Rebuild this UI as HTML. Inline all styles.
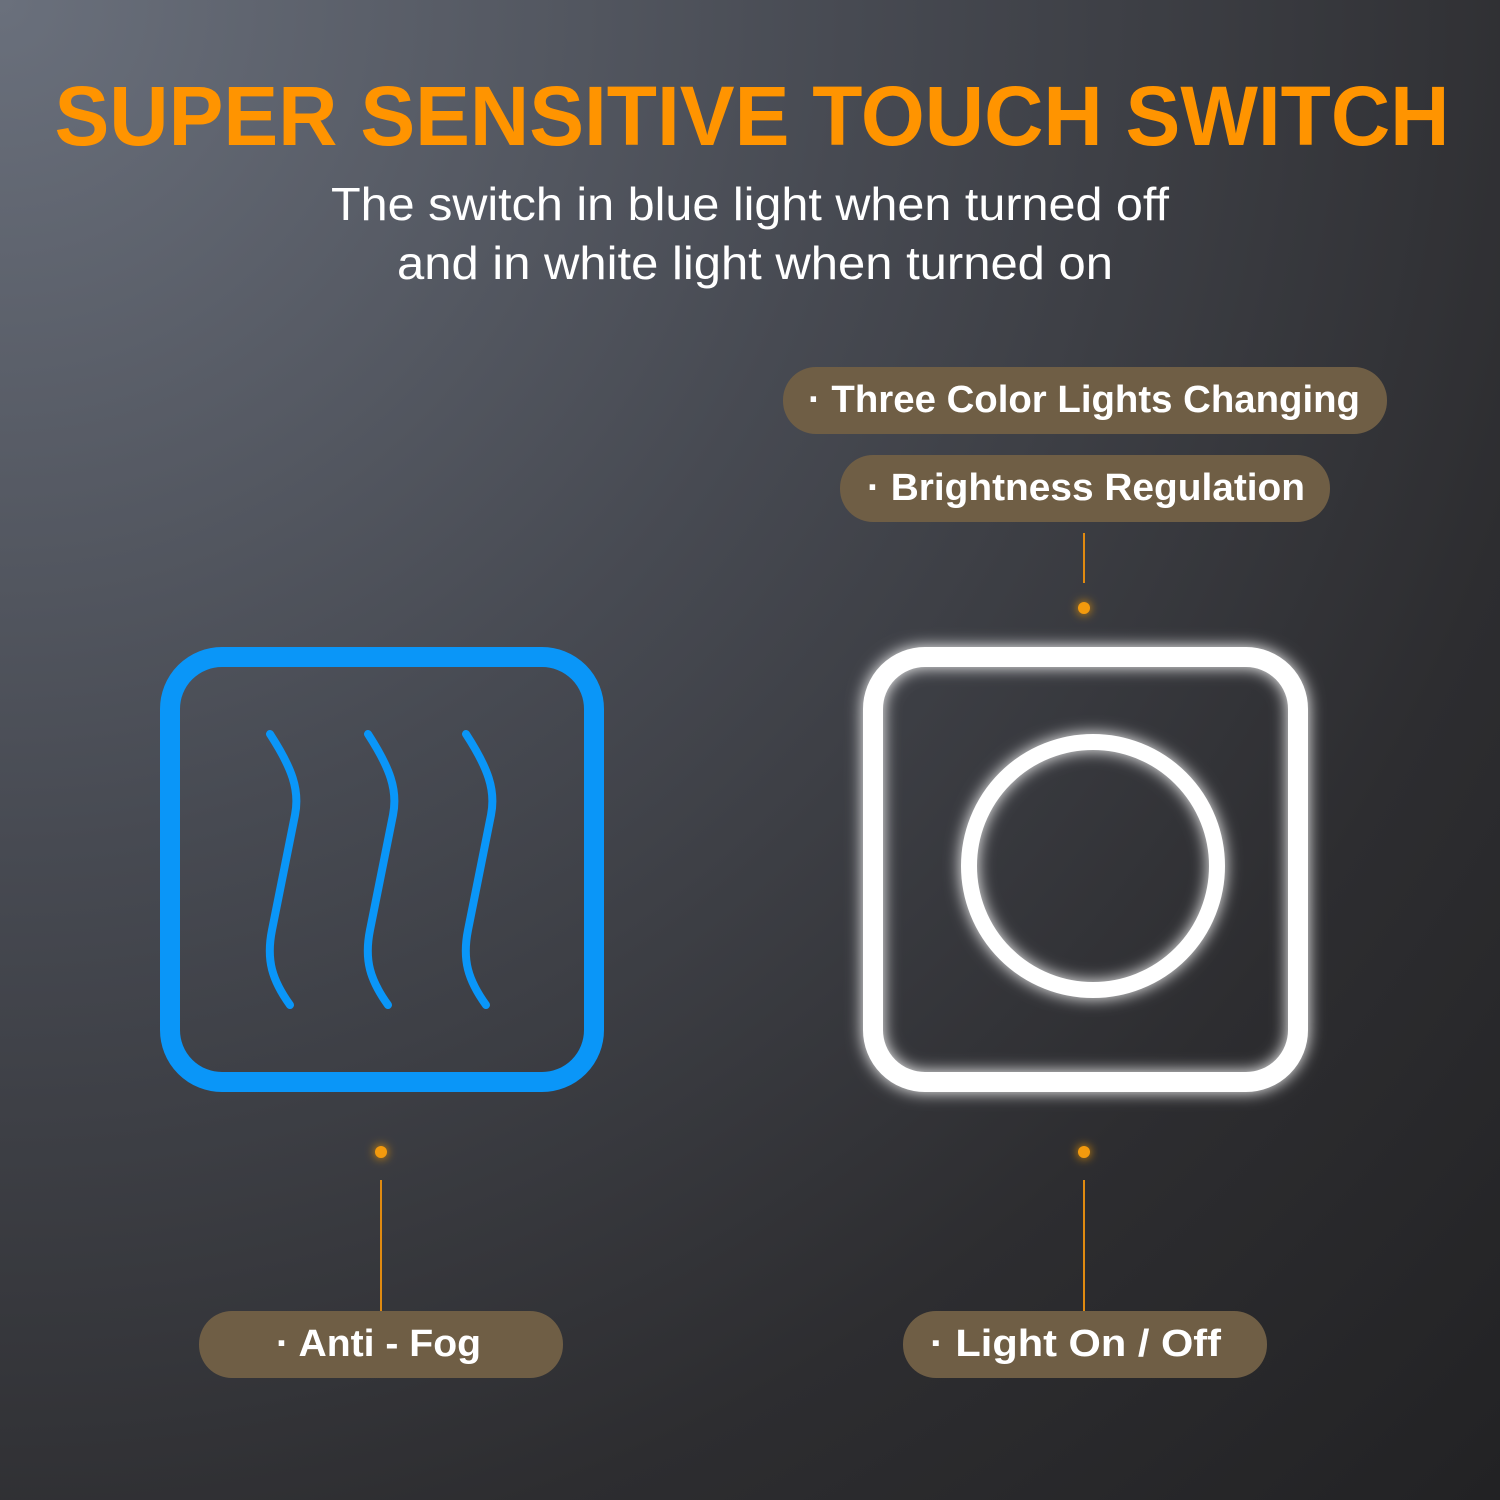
<!DOCTYPE html>
<html><head><style>
html,body{margin:0;padding:0;}
body{width:1500px;height:1500px;overflow:hidden;background:radial-gradient(circle at 0% 0%, #6a707c 0%, #474a52 40%, #2d2d30 75%, #222224 100%);}
svg{display:block}
</style></head><body>
<svg width="1500" height="1500" viewBox="0 0 1500 1500" xmlns="http://www.w3.org/2000/svg">
<defs>
<filter id="glow" x="-20%" y="-20%" width="140%" height="140%"><feGaussianBlur stdDeviation="8" result="b"/><feMerge><feMergeNode in="b"/><feMergeNode in="SourceGraphic"/></feMerge></filter>
<filter id="dg" x="-200%" y="-200%" width="500%" height="500%"><feGaussianBlur stdDeviation="5" result="b"/><feMerge><feMergeNode in="b"/><feMergeNode in="SourceGraphic"/></feMerge></filter>
</defs>
<text x="752" y="145" text-anchor="middle" font-family="Liberation Sans, sans-serif" font-weight="bold" font-size="84" fill="#ff9400" textLength="1395" lengthAdjust="spacingAndGlyphs">SUPER SENSITIVE TOUCH SWITCH</text>
<g font-family="Liberation Sans, sans-serif" font-size="46" fill="#ffffff" text-anchor="middle">
<text x="750" y="220" textLength="838" lengthAdjust="spacingAndGlyphs">The switch in blue light when turned off</text>
<text x="755" y="279" textLength="716" lengthAdjust="spacingAndGlyphs">and in white light when turned on</text>
</g>
<g fill="#6f5e45">
<rect x="783" y="367" width="604" height="67" rx="33"/>
<rect x="840" y="455" width="490" height="67" rx="33"/>
<rect x="199" y="1311" width="364" height="67" rx="33"/>
<rect x="903" y="1311" width="364" height="67" rx="33"/>
</g>
<g font-family="Liberation Sans, sans-serif" font-weight="bold" font-size="38" fill="#ffffff">
<text x="808" y="412" textLength="552" lengthAdjust="spacingAndGlyphs">· Three Color Lights Changing</text>
<text x="867" y="500" textLength="438" lengthAdjust="spacingAndGlyphs">· Brightness Regulation</text>
<text x="276" y="1356" textLength="205" lengthAdjust="spacingAndGlyphs">· Anti - Fog</text>
<text x="930" y="1356" textLength="291" lengthAdjust="spacingAndGlyphs">· Light On / Off</text>
</g>
<g stroke="#e08a10" stroke-width="2">
<line x1="1084" y1="533" x2="1084" y2="583"/>
<line x1="381" y1="1180" x2="381" y2="1311"/>
<line x1="1084" y1="1180" x2="1084" y2="1311"/>
</g>
<g fill="#f39a10" filter="url(#dg)">
<circle cx="1084" cy="608" r="6"/>
<circle cx="381" cy="1152" r="6"/>
<circle cx="1084" cy="1152" r="6"/>
</g>
<rect x="170" y="657" width="424" height="425" rx="52" fill="none" stroke="#0a96f8" stroke-width="20"/>
<g fill="none" stroke="#0a96f8" stroke-width="8" stroke-linecap="round">
<path d="M270 734 C292 768 300 790 295 815 L272 930 C266 960 272 980 290 1005"/>
<path d="M368 734 C390 768 398 790 393 815 L370 930 C364 960 370 980 388 1005"/>
<path d="M466 734 C488 768 496 790 491 815 L468 930 C462 960 468 980 486 1005"/>
</g>
<g filter="url(#glow)" fill="none" stroke="#ffffff">
<rect x="873" y="657" width="425" height="425" rx="52" stroke-width="20"/>
<circle cx="1093" cy="866" r="124" stroke-width="16"/>
</g>
</svg>
</body></html>
